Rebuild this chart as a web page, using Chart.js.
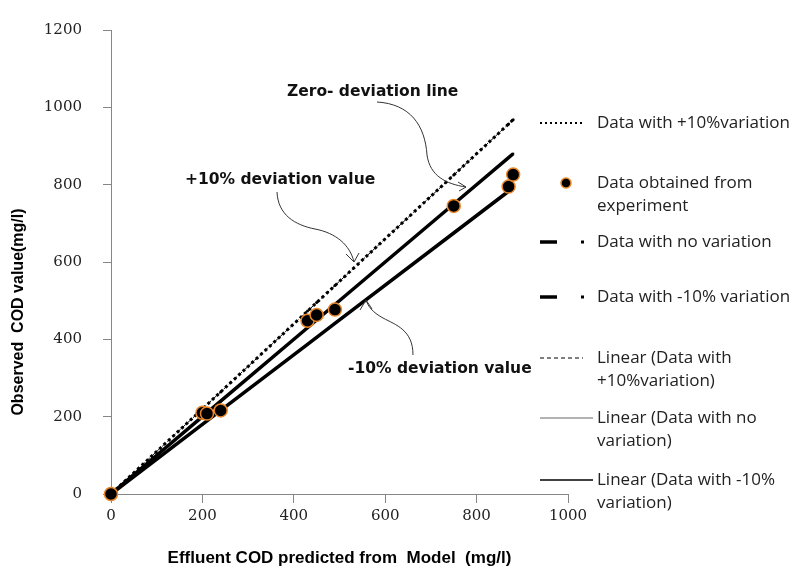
<!DOCTYPE html>
<html>
<head>
<meta charset="utf-8">
<script src="https://cdn.jsdelivr.net/npm/chart.js@4.4.0/dist/chart.umd.min.js"></script>
<style>
  body { margin: 0; background: #fff; }
  #wrap { width: 799px; height: 578px; position: relative; }
</style>
</head>
<body>
<div id="wrap"><canvas id="myChart"></canvas></div>
<script>
// model predictions (x) and the three reference series
const modelX   = [0, 200, 240, 430, 450, 490, 750, 870, 880];
const plus10Y  = [0, 220, 264, 473, 495, 539, 825, 957, 968];
const noVarY   = [0, 200, 240, 430, 450, 490, 750, 870, 880];
const minus10Y = [0, 180, 216, 387, 405, 441, 675, 783, 792];

// experiment points
const expX = [0, 200, 210, 240, 430, 450, 490, 750, 870, 880];
const expY = [0, 210, 208, 216, 448, 463, 477, 745, 795, 826];

// trendline end points
const trendX     = [0, 880];
const trendPlus  = [0, 968];
const trendNo    = [0, 880];
const trendMinus = [0, 792];

const xTicks = [0, 200, 400, 600, 800, 1000];
const yTicks = [0, 200, 400, 600, 800, 1000, 1200];

const legendLabels = [
  ['Data with +10%variation'],
  ['Data obtained from', 'experiment'],
  ['Data with no variation'],
  ['Data with -10% variation'],
  ['Linear (Data with', '+10%variation)'],
  ['Linear (Data with no', 'variation)'],
  ['Linear (Data with -10%', 'variation)']
];

const annotations = [
  { text: 'Zero- deviation line', x: 287, y: 92 },
  { text: '+10% deviation value', x: 185, y: 180 },
  { text: '-10% deviation value', x: 348, y: 369 }
];

function pts(xs, ys) {
  return xs.map((x, i) => ({ x: x, y: ys[i] }));
}

const orange = '#e8862a';

// legend, annotations and y title drawn on top
const extras = {
  id: 'extras',
  afterDraw(chart) {
    const ctx = chart.ctx;
    ctx.save();

    // y axis title
    ctx.save();
    ctx.translate(19, 312);
    ctx.rotate(-Math.PI / 2);
    ctx.font = 'bold 16px "Liberation Sans", Arial, sans-serif';
    ctx.fillStyle = '#000';
    ctx.textAlign = 'center';
    ctx.textBaseline = 'middle';
    ctx.fillText('Observed  COD value(mg/l)', 0, 0);
    ctx.restore();

    // annotations text
    ctx.font = 'bold 15.5px "DejaVu Sans", sans-serif';
    ctx.fillStyle = '#111';
    ctx.textBaseline = 'middle';
    ctx.textAlign = 'left';
    annotations.forEach(a => ctx.fillText(a.text, a.x, a.y));

    // curved arrows
    ctx.strokeStyle = '#333';
    ctx.lineWidth = 1;
    function head(x, y, x1, y1, x2, y2) {
      ctx.beginPath();
      ctx.moveTo(x1, y1); ctx.lineTo(x, y); ctx.lineTo(x2, y2);
      ctx.stroke();
    }
    ctx.beginPath();
    ctx.moveTo(377, 102);
    ctx.bezierCurveTo(410, 104, 425, 125, 427, 155);
    ctx.bezierCurveTo(430, 176, 446, 184, 466, 187);
    ctx.stroke();
    head(466, 187, 458, 182, 459, 191);

    ctx.beginPath();
    ctx.moveTo(277, 192);
    ctx.bezierCurveTo(278, 215, 295, 225, 315, 229);
    ctx.bezierCurveTo(336, 233, 350, 245, 354, 262);
    ctx.stroke();
    head(354, 262, 346, 254, 359, 253);

    ctx.beginPath();
    ctx.moveTo(413, 355);
    ctx.bezierCurveTo(413, 330, 396, 325, 383, 318);
    ctx.bezierCurveTo(372, 312, 368, 306, 366, 300);
    ctx.stroke();
    head(366, 300, 360, 310, 372, 309);

    // legend
    const lx = 540, tx = 597;
    const rows = [123, 183, 242, 297, 358, 418, 480];
    ctx.font = '17px "Open Sans", sans-serif';
    ctx.fillStyle = '#222';
    rows.forEach((y, i) => {
      legendLabels[i].forEach((line, k) => ctx.fillText(line, tx, y + k * 23));
    });
    ctx.lineCap = 'butt';
    // +10% data
    ctx.strokeStyle = '#000';
    ctx.setLineDash([2, 3]);
    ctx.lineWidth = 2;
    ctx.beginPath(); ctx.moveTo(lx, rows[0]); ctx.lineTo(583, rows[0]); ctx.stroke();
    ctx.setLineDash([]);
    // experiment
    ctx.beginPath(); ctx.arc(566, rows[1], 5, 0, Math.PI * 2);
    ctx.fillStyle = '#000'; ctx.fill();
    ctx.strokeStyle = orange; ctx.lineWidth = 1.5; ctx.stroke();
    // no variation / -10%
    ctx.strokeStyle = '#000'; ctx.fillStyle = '#000';
    [rows[2], rows[3]].forEach(y => {
      ctx.lineWidth = 3.5;
      ctx.beginPath(); ctx.moveTo(lx, y); ctx.lineTo(557, y); ctx.stroke();
      ctx.fillRect(581, y - 1.5, 3, 3);
    });
    // linear trendlines
    ctx.lineWidth = 1;
    ctx.setLineDash([4, 3]);
    ctx.beginPath(); ctx.moveTo(lx, rows[4]); ctx.lineTo(583, rows[4]); ctx.stroke();
    ctx.setLineDash([]);
    ctx.strokeStyle = '#666';
    ctx.beginPath(); ctx.moveTo(lx, rows[5]); ctx.lineTo(593, rows[5]); ctx.stroke();
    ctx.strokeStyle = '#000'; ctx.lineWidth = 1.5;
    ctx.beginPath(); ctx.moveTo(lx, rows[6]); ctx.lineTo(593, rows[6]); ctx.stroke();

    ctx.restore();
  }
};

const tickFont = { family: '"DejaVu Serif", serif', size: 15 };

const ctx = document.getElementById('myChart').getContext('2d');
const chart = new Chart(ctx, {
  type: 'scatter',
  data: {
    datasets: [
      {
        label: 'Linear (Data with +10%variation)',
        data: pts(trendX, trendPlus),
        showLine: true, borderColor: '#000', borderWidth: 1, borderDash: [4, 3],
        pointRadius: 0, order: 7
      },
      {
        label: 'Linear (Data with no variation)',
        data: pts(trendX, trendNo),
        showLine: true, borderColor: '#666', borderWidth: 1,
        pointRadius: 0, order: 6
      },
      {
        label: 'Linear (Data with -10% variation)',
        data: pts(trendX, trendMinus),
        showLine: true, borderColor: '#000', borderWidth: 1.5,
        pointRadius: 0, order: 5
      },
      {
        label: 'Data with +10%variation',
        data: pts(modelX, plus10Y),
        showLine: true, borderColor: '#000', borderWidth: 3, borderDash: [3, 3],
        pointRadius: 1.5, pointStyle: 'circle', pointBackgroundColor: '#000', pointBorderWidth: 0,
        order: 4
      },
      {
        label: 'Data with no variation',
        data: pts(modelX, noVarY),
        showLine: true, borderColor: '#000', borderWidth: 3.5,
        pointRadius: 1.5, pointStyle: 'rect', pointBackgroundColor: '#000', pointBorderWidth: 0,
        order: 3
      },
      {
        label: 'Data with -10% variation',
        data: pts(modelX, minus10Y),
        showLine: true, borderColor: '#000', borderWidth: 3.5,
        pointRadius: 1.5, pointStyle: 'rect', pointBackgroundColor: '#000', pointBorderWidth: 0,
        order: 2
      },
      {
        label: 'Data obtained from experiment',
        data: pts(expX, expY),
        showLine: false,
        pointRadius: 6.5, pointBackgroundColor: '#000', pointBorderColor: orange, pointBorderWidth: 1.5,
        order: 1
      }
    ]
  },
  options: {
    responsive: true,
    maintainAspectRatio: false,
    animation: false,
    clip: false,
    layout: { padding: { top: 24, right: 231, left: 0, bottom: 0 } },
    plugins: { legend: { display: false }, tooltip: { enabled: false } },
    scales: {
      x: {
        type: 'linear', min: 0, max: 1000,
        afterFit: s => { s.height = 84; },
        afterBuildTicks: s => { s.ticks = xTicks.map(v => ({ value: v })); },
        grid: { drawOnChartArea: false, drawTicks: true, tickLength: 9, color: '#868686' },
        border: { display: true, color: '#868686', width: 1 },
        ticks: { padding: 4, color: '#222', font: tickFont, callback: v => String(v) },
        title: {
          display: true, text: 'Effluent COD predicted from  Model  (mg/l)',
          color: '#000', padding: { top: 0, bottom: 9 },
          font: { family: '"Liberation Sans", Arial, sans-serif', size: 17, weight: 'bold' }
        }
      },
      y: {
        type: 'linear', min: 0, max: 1200,
        afterFit: s => { s.width = 111; },
        afterBuildTicks: s => { s.ticks = yTicks.map(v => ({ value: v })); },
        grid: { drawOnChartArea: false, drawTicks: true, tickLength: 8, color: '#868686' },
        border: { display: true, color: '#868686', width: 1 },
        ticks: { padding: 21, color: '#222', font: tickFont, callback: v => String(v) }
      }
    }
  },
  plugins: [extras]
});
</script>
</body>
</html>
